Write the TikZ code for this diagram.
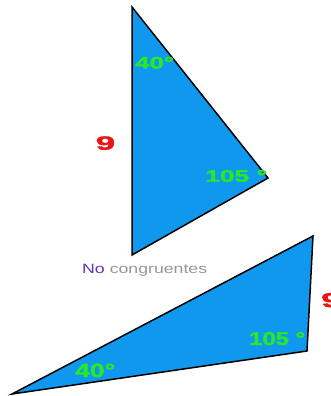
\documentclass[tikz,border=0pt]{standalone}
\usepackage{fontspec}
\setmainfont{Liberation Sans}
\newfontfamily\lblfont[FakeBold=1.5]{Liberation Sans Bold}
\usepackage{graphicx}
\definecolor{triblue}{RGB}{16,152,238}
\definecolor{anggreen}{RGB}{40,232,40}
\definecolor{sidered}{RGB}{235,20,20}
\definecolor{nopurple}{RGB}{100,50,170}
\definecolor{congray}{RGB}{150,150,150}
\newcommand{\fitlbl}[3]{\resizebox{#1pt}{#2pt}{\lblfont #3}}
\begin{document}
\begin{tikzpicture}[x=1pt,y=-1pt,
  tri/.style={fill=triblue,draw=black,line width=1.5pt,line join=miter},
  ang/.style={text=anggreen,inner sep=0pt,anchor=base west},
  side/.style={text=sidered,inner sep=0pt,anchor=base west},
  capt/.style={inner sep=0pt,anchor=base west}]
\useasboundingbox (0,0) rectangle (331,396);
\clip (0,0) rectangle (331,396);
% top triangle
\coordinate (A1) at (132,7);
\coordinate (B1) at (268,178);
\coordinate (C1) at (132,255);
\draw[tri] (A1) -- (B1) -- (C1) -- cycle;
% bottom triangle
\coordinate (A2) at (313,236);
\coordinate (B2) at (307,351);
\coordinate (C2) at (12,394);
\draw[tri] (A2) -- (B2) -- (C2) -- cycle;
% labels top
\node[ang] (t40) at (135,68.5) {\fitlbl{39}{11.7}{40°}};
\node[ang] (t105) at (205,181.7) {\fitlbl{62}{11.7}{105 °}};
\node[side] (t9) at (95.5,149.7) {\fitlbl{19.5}{13.4}{9}};
% labels bottom
\node[ang] (b40) at (75,377) {\fitlbl{40}{13.4}{40°}};
\node[ang] (b105) at (249,345) {\fitlbl{56}{13}{105 °}};
\node[side] (b9) at (321,307) {\fitlbl{19.5}{14}{9}};
% caption
\node[capt] (cap) at (82,273.8) {\resizebox{125pt}{9.3pt}{\textcolor{nopurple}{No} \textcolor{congray}{congruentes}}};
\end{tikzpicture}
\end{document}
